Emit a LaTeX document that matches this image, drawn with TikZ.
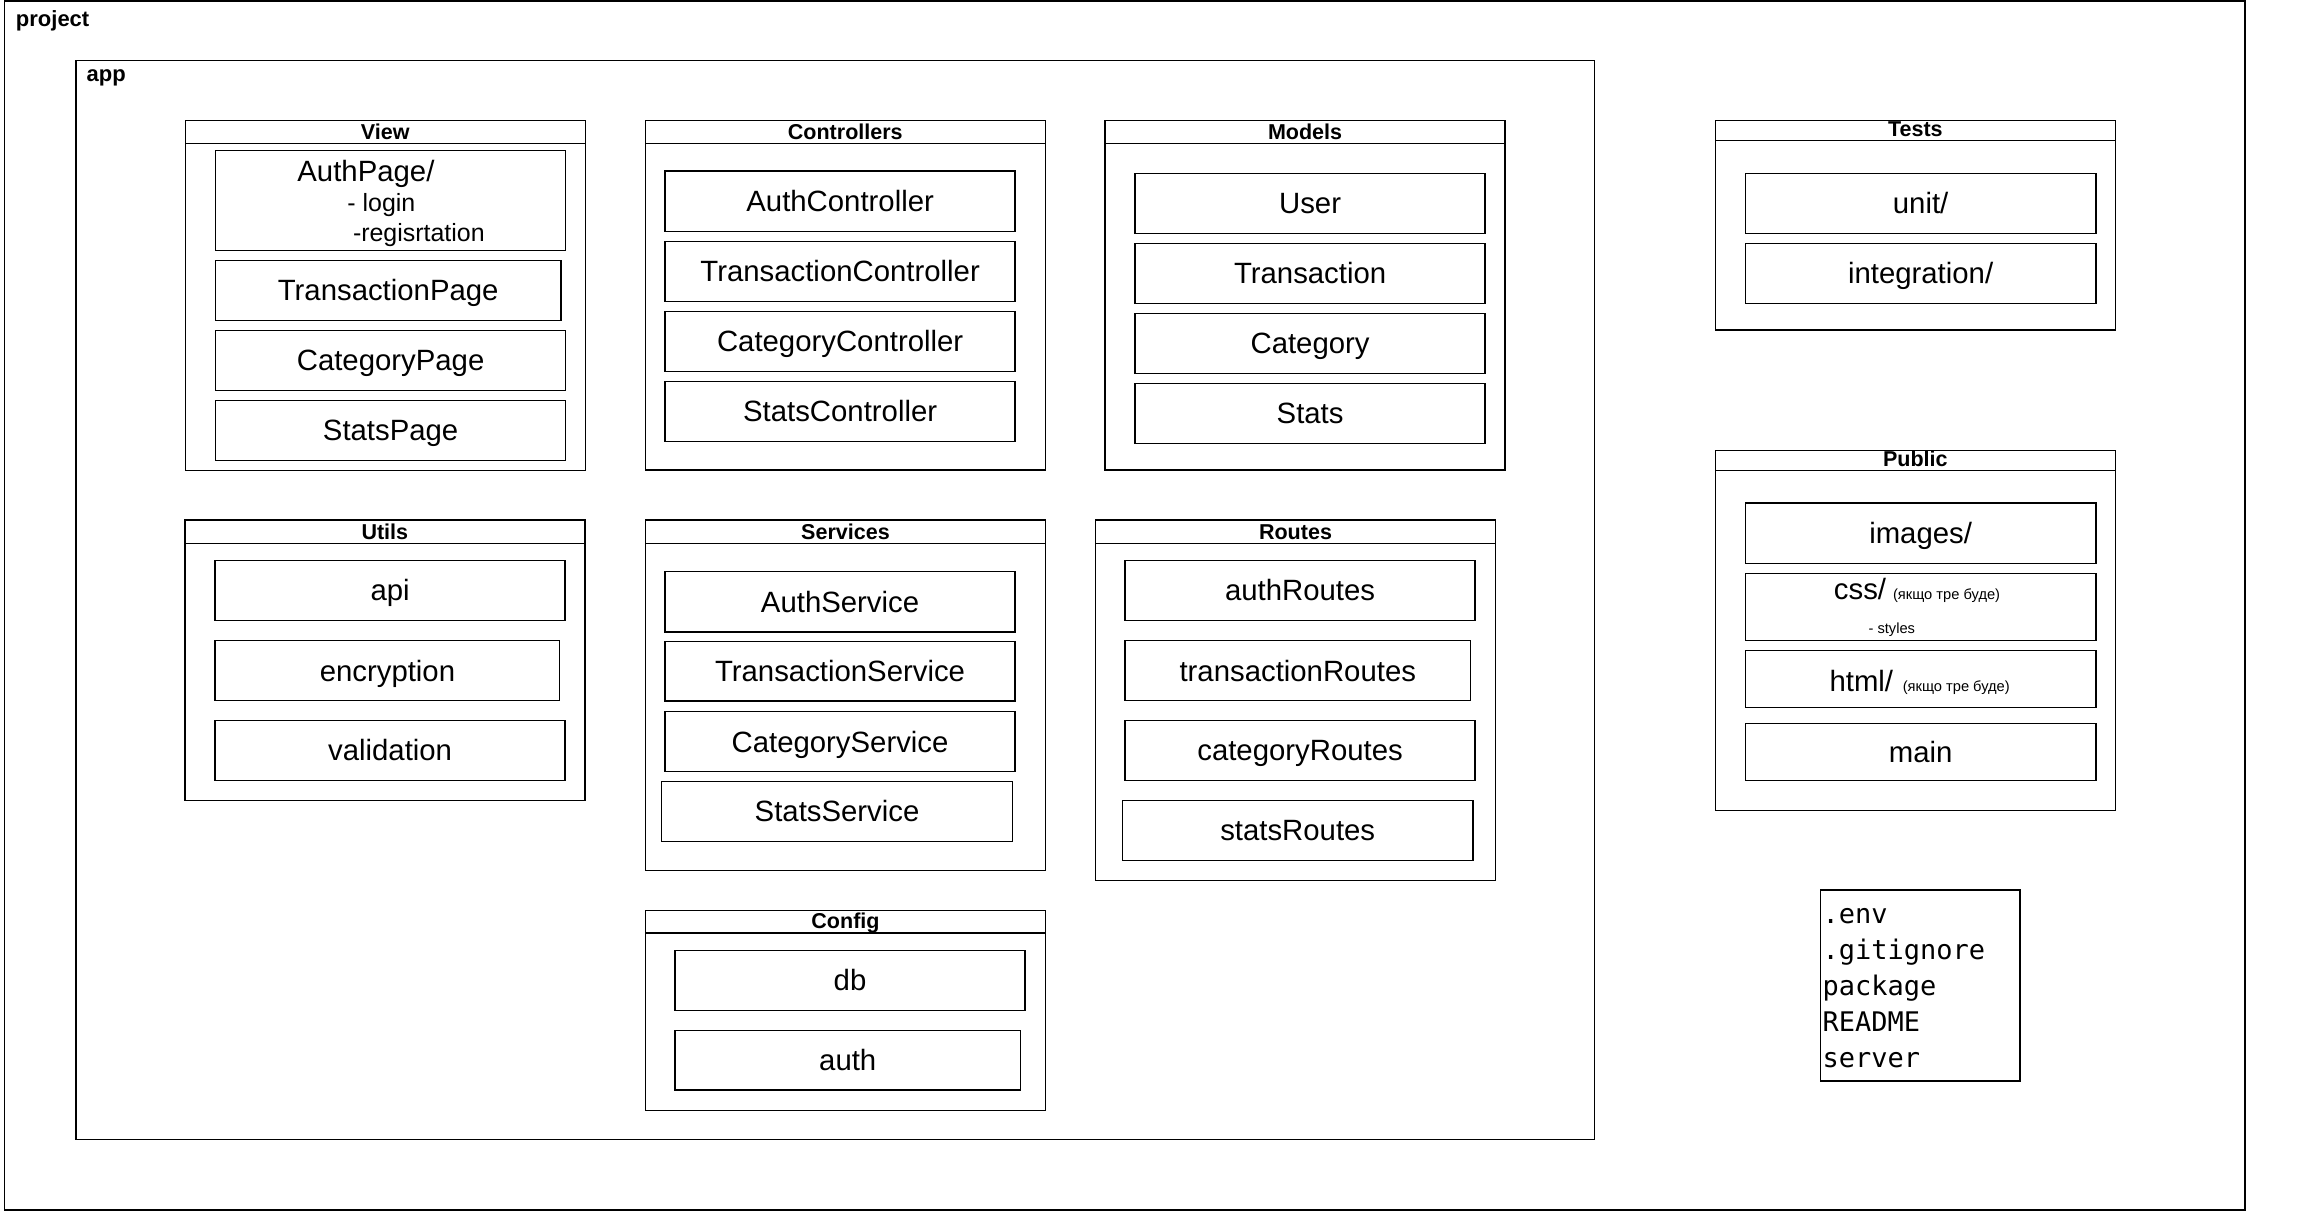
\documentclass[tikz,border=0pt]{standalone}
\usepackage{fontspec}
\setmainfont{Liberation Sans}
\newfontfamily\monofont{DejaVu Sans Mono}
\usetikzlibrary{fit}
\tikzset{
  lw/.style={line width=0.75pt},
  frame/.style={draw=black, lw, inner sep=0pt, outer sep=0pt},
  cont/.style={draw=black, lw, inner sep=0pt, outer sep=0pt},
  hdrbox/.style={draw=black, lw, inner sep=0pt, outer sep=0pt},
  itemtxt/.style={inner sep=0pt, outer sep=0pt, anchor=center, font=\fontsize{15}{18}\selectfont, text height=10.74pt, text depth=0pt},
  ttl/.style={font=\bfseries\fontsize{11}{13}\selectfont, anchor=base, inner sep=0pt},
  lbl/.style={font=\bfseries\fontsize{11.25}{13}\selectfont, anchor=base west, inner sep=0pt},
  bigtxt/.style={font=\fontsize{15}{18}\selectfont, anchor=base west, inner sep=0pt},
  midtxt/.style={font=\fontsize{12.75}{15}\selectfont, anchor=base west, inner sep=0pt},
  smalltxt/.style={font=\fontsize{7.5}{9}\selectfont, anchor=base west, inner sep=0pt},
  mono/.style={font=\monofont\fontsize{13.8}{18}\selectfont, anchor=base west, inner sep=0pt},
}
\newcommand\bx[6]{%
  \node[frame, fit={(#2,#3)(#4,#5)}] (#1) {};
  \node[itemtxt] (#1t) at (#1.center) {#6};}
\newcommand\ct[7]{%
  \node[cont, fit={(#2,#3)(#4,#5)}] (#1) {};
  \node[hdrbox, fit={(#2,#3)(#4,#6)}] (#1h) {};
  \node[ttl] (#1t) at ([yshift=2.1pt]#1h.south) {#7};}
\begin{document}
\begin{tikzpicture}[x=0.75pt, y=-0.75pt]
\useasboundingbox (0,0) rectangle (1568,825.6);

% outer frames
\node[frame, fit={(3,0.6)(1530.6,824.9)}] (project) {};
\node[lbl] (projectl) at (10.6,18.2) {project};
\node[frame, fit={(51.7,41.4)(1087,777)}] (app) {};
\node[lbl] (appl) at (58.8,55.4) {app};

% View
\ct{view}{126.3}{82.3}{399}{320.6}{98}{View}
\node[frame, fit={(147,102.5)(385.6,170.7)}] (authpage) {};
\node[bigtxt] (authpaget) at (202.5,123.4) {AuthPage/};
\node[midtxt] (logint) at (236.6,144.3) {- login};
\node[midtxt] (regt) at (240.4,164.8) {-regisrtation};
\bx{transpage}{147}{177.5}{382.3}{218.4}{TransactionPage}
\bx{catpage}{147}{225.2}{385.6}{266.1}{CategoryPage}
\bx{statspage}{147}{272.9}{385.6}{313.8}{StatsPage}

% Controllers
\ct{ctrl}{439.9}{82.3}{712.6}{320.4}{97.7}{Controllers}
\bx{authctrl}{453.4}{116.6}{692.1}{157.7}{AuthController}
\bx{transctrl}{453.4}{164.5}{692.1}{205.4}{TransactionController}
\bx{catctrl}{453.4}{212.2}{692.1}{253.1}{CategoryController}
\bx{statsctrl}{453.4}{260}{692.1}{300.9}{StatsController}

% Models
\ct{models}{753.4}{82.3}{1026}{320.4}{97.7}{Models}
\bx{user}{773.8}{118.2}{1012.5}{159.1}{User}
\bx{trans}{773.8}{165.9}{1012.5}{206.8}{Transaction}
\bx{cat}{773.8}{213.6}{1012.5}{254.5}{Category}
\bx{stats}{773.8}{261.3}{1012.5}{302.2}{Stats}

% Utils
\ct{utils}{126}{354.6}{398.7}{545.7}{370.4}{Utils}
\bx{api}{146.7}{382}{385.2}{423}{api}
\bx{encr}{146.7}{436.7}{381.6}{477.5}{encryption}
\bx{valid}{146.7}{491.2}{385.2}{532}{validation}

% Services
\ct{services}{440}{354.6}{712.8}{593.5}{370.4}{Services}
\bx{authsrv}{453.4}{389.6}{692}{430.7}{AuthService}
\bx{transsrv}{453.4}{437.3}{692}{478}{TransactionService}
\bx{catsrv}{453.4}{485.1}{692}{525.9}{CategoryService}
\bx{statssrv}{451}{532.6}{690.3}{573.7}{StatsService}

% Routes
\ct{routes}{746.9}{354.6}{1019.5}{600.2}{370.4}{Routes}
\bx{authrt}{767}{382}{1005.6}{423}{authRoutes}
\bx{transrt}{767}{436.7}{1002.5}{477.5}{transactionRoutes}
\bx{catrt}{767}{491.2}{1005.6}{532}{categoryRoutes}
\bx{statsrt}{765.1}{545.7}{1004.3}{586.5}{statsRoutes}

% Config
\ct{config}{440}{620.6}{712.8}{757}{636.1}{Config}
\bx{db}{460.2}{648}{698.8}{688.8}{db}
\bx{authcfg}{460.2}{702.5}{695.7}{743.2}{auth}

% Tests
\ct{tests}{1169.4}{82}{1442.1}{225}{95.9}{Tests}
\bx{unit}{1189.9}{118.2}{1428.8}{159.1}{unit/}
\bx{integ}{1189.9}{165.9}{1428.8}{206.8}{integration/}

% Public
\ct{public}{1169.4}{307}{1442.1}{552.6}{320.7}{Public}
\bx{images}{1189.9}{343}{1428.8}{384}{images/}
\node[frame, fit={(1189.9,391)(1428.8,436.7)}] (css) {};
\node[bigtxt] (csst) at (1250,408.6) {css/};
\node[smalltxt] (cssn) at (1290.3,408.6) {(якщо тре буде)};
\node[smalltxt] (styles) at (1273.6,431.7) {- styles};
\node[frame, fit={(1189.9,443.4)(1428.8,482.3)}] (html) {};
\node[bigtxt] (htmlt) at (1247,471.6) {html/};
\node[smalltxt] (htmln) at (1296.9,471.6) {(якщо тре буде)};
\bx{main}{1189.9}{493.3}{1428.8}{532}{main}

% root files
\node[frame, fit={(1241,606.7)(1377,736.8)}] (files) {};
\node[mono] (f1) at (1242.3,629.7) {.env};
\node[mono] (f2) at (1242.3,654.2) {.gitignore};
\node[mono] (f3) at (1242.3,678.7) {package};
\node[mono] (f4) at (1242.3,703.2) {README};
\node[mono] (f5) at (1242.3,727.7) {server};
\end{tikzpicture}
\end{document}
